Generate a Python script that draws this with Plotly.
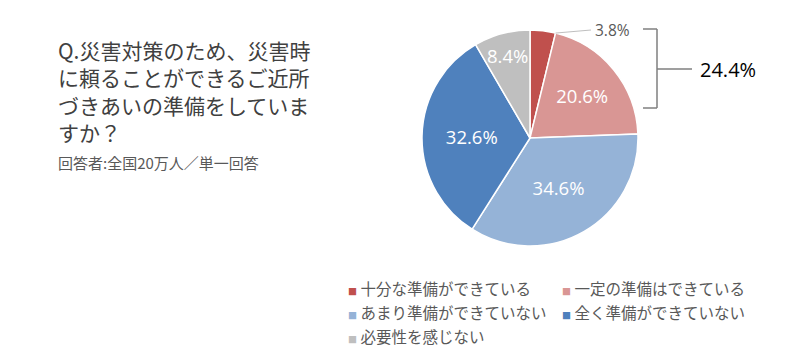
import math
import plotly.graph_objects as go

categories = ["十分な準備ができている", "一定の準備はできている", "あまり準備ができていない",
              "全く準備ができていない", "必要性を感じない"]
values = [3.8, 20.6, 34.6, 32.6, 8.4]
colors = ["#C0504D", "#D99694", "#95B3D7", "#4F81BD", "#BFBFBF"]
bracket_total = "24.4%"
title_lines = ["Q.災害対策のため、災害時", "に頼ることができるご近所", "づきあいの準備をしていま", "すか？"]
subtitle = "回答者:全国20万人／単一回答"

W, H = 800, 360
FONT = "Noto Sans CJK JP"
NUMFONT = "Open Sans, sans-serif"

def px(x):
    return x / W

def py(y):
    return 1 - y / H

# pie geometry (pixels)
cx, cy, R = 530, 138, 108

fig = go.Figure()
fig.add_trace(go.Pie(
    labels=categories,
    values=values,
    sort=False,
    direction="clockwise",
    rotation=0,
    marker=dict(colors=colors, line=dict(color="white", width=1.5)),
    text=[""] + [f"{v:.1f}%" for v in values[1:]],
    textinfo="text",
    textposition="inside",
    insidetextorientation="horizontal",
    textfont=dict(family=NUMFONT, size=18.5, color="white"),
    hoverinfo="label+value",
    domain=dict(x=[px(cx - R), px(cx + R)], y=[py(cy + R), py(cy - R)]),
    showlegend=False,
))

annotations = []
shapes = []

# title
annotations.append(dict(
    x=px(56), y=py(33), xref="paper", yref="paper", xanchor="left", yanchor="top",
    text="<br>".join(title_lines), showarrow=False, align="left",
    font=dict(family=FONT, size=21, color="#404040"),
))
annotations.append(dict(
    x=px(56), y=py(163), xref="paper", yref="paper", xanchor="left", yanchor="middle",
    text=subtitle, showarrow=False, align="left",
    font=dict(family=FONT, size=15, color="#595959"),
))

# outside label for the small slice with leader line
total = sum(values)
end_ang = math.radians(values[0] / total * 360)
ex, ey = cx + R * math.sin(end_ang), cy - R * math.cos(end_ang)
lx, ly = 593, 30
shapes.append(dict(type="line", xref="paper", yref="paper",
                   x0=px(ex), y0=py(ey), x1=px(lx - 2), y1=py(ly),
                   line=dict(color="#BFBFBF", width=1)))
annotations.append(dict(
    x=px(lx), y=py(ly), xref="paper", yref="paper", xanchor="left", yanchor="middle",
    text=f"{values[0]:.1f}%", showarrow=False,
    font=dict(family=NUMFONT, size=15.5, color="#595959"),
))

# bracket
bc = "#7F7F7F"
for (x0, y0, x1, y1) in [(643, 29, 657, 29), (657, 29, 657, 108), (643, 108, 657, 108), (657, 69, 692, 69)]:
    shapes.append(dict(type="line", xref="paper", yref="paper",
                       x0=px(x0), y0=py(y0), x1=px(x1), y1=py(y1),
                       line=dict(color=bc, width=1.5)))
annotations.append(dict(
    x=px(698), y=py(69), xref="paper", yref="paper", xanchor="left", yanchor="middle",
    text=bracket_total, showarrow=False,
    font=dict(family=NUMFONT, size=20, color="#000000"),
))

# legend
for i, (cat, col) in enumerate(zip(categories, colors)):
    row, c = divmod(i, 2)
    x = 346 + c * 214
    y = 288 + row * 24
    annotations.append(dict(
        x=px(x), y=py(y), xref="paper", yref="paper", xanchor="left", yanchor="middle",
        text=f"<span style='color:{col};font-size:9px'>■</span> {cat}", showarrow=False,
        font=dict(family=FONT, size=15.5, color="#595959"),
    ))

fig.update_layout(
    width=W, height=H,
    margin=dict(l=0, r=0, t=0, b=0),
    paper_bgcolor="white", plot_bgcolor="white",
    annotations=annotations, shapes=shapes,
    uniformtext=dict(minsize=18.5, mode="show"),
    font=dict(family=FONT),
)

fig.write_html("out.html")
